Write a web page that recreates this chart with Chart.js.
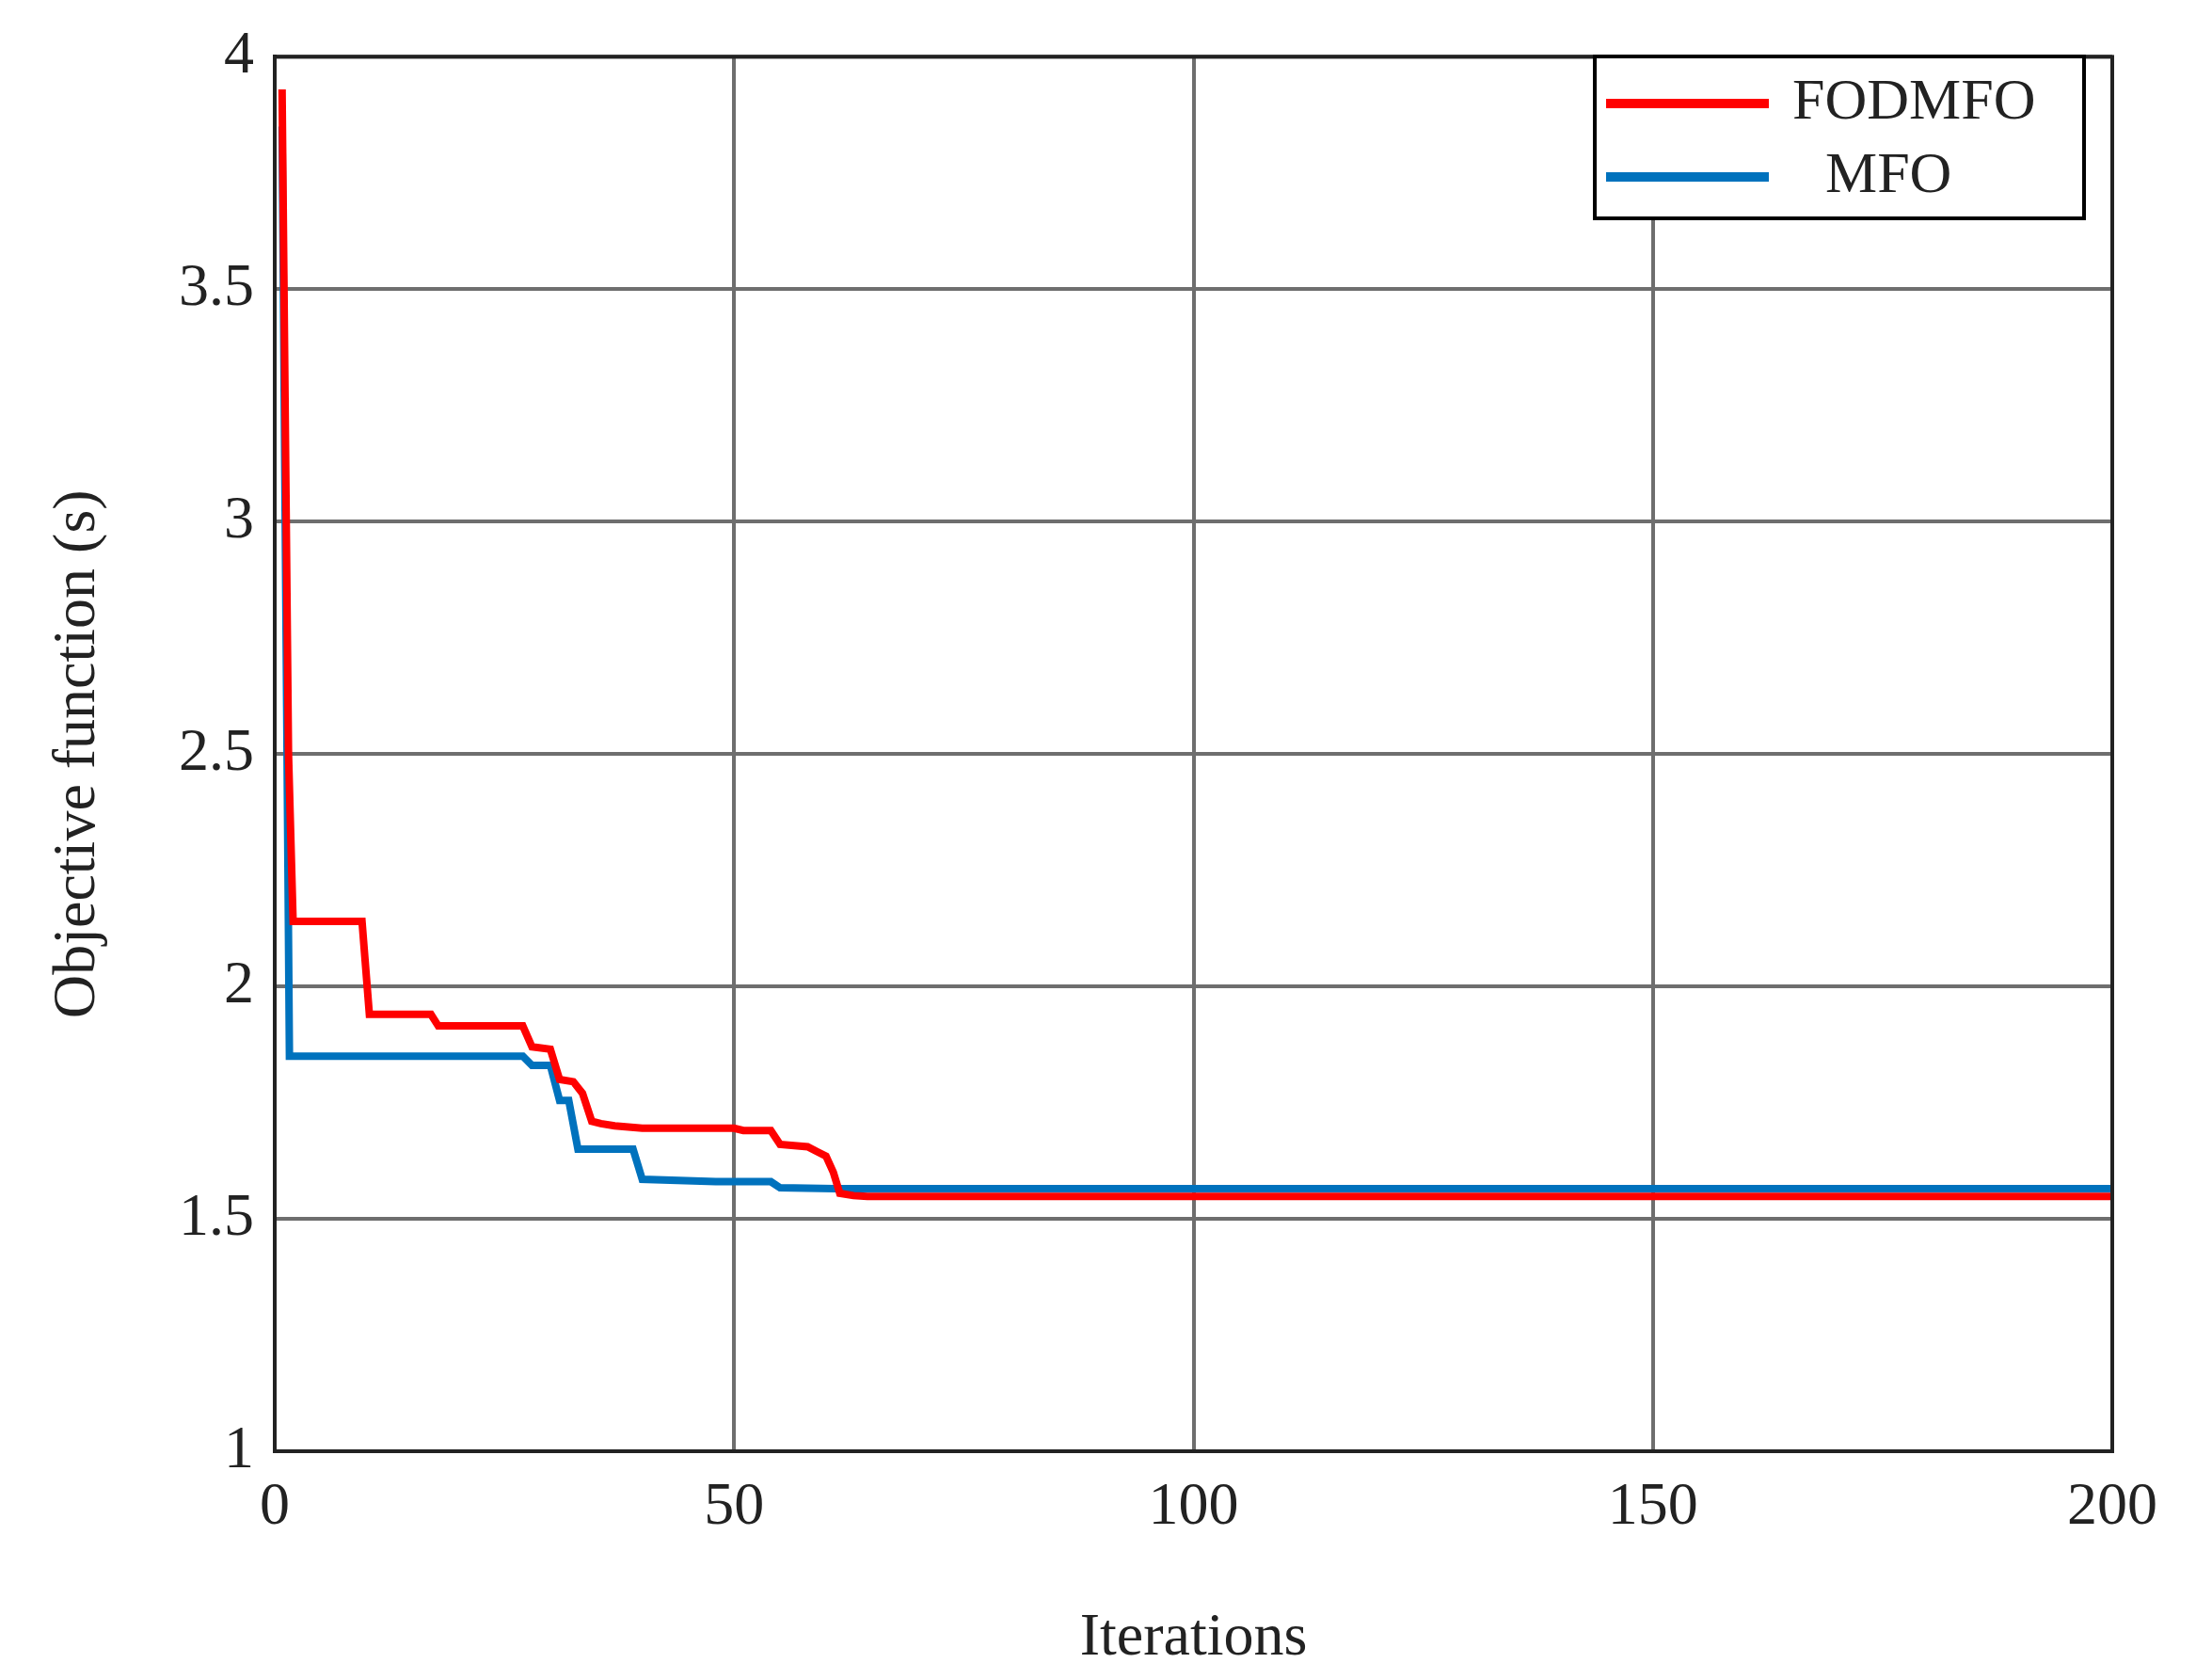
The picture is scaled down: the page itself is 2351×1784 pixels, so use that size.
<!DOCTYPE html>
<html><head><meta charset="utf-8">
<script src="https://cdn.jsdelivr.net/npm/chart.js@4/dist/chart.umd.min.js"></script>
<style>html,body{margin:0;padding:0;background:#fff}#w{width:2351px;height:1784px}</style>
</head><body><div id="w"><canvas id="c"></canvas></div>
<script>
const fodIter = [0.8, 1.5, 2, 9.5, 10.3, 17, 17.8, 27, 28, 30, 31, 32.5, 33.5, 34.5, 35.5, 37, 40, 50, 51, 54, 55, 58, 59, 60, 60.8, 61.5, 63, 64.5, 200];
const fodVal  = [3.93, 2.5, 2.14, 2.14, 1.94, 1.94, 1.915, 1.915, 1.87, 1.865, 1.80, 1.795, 1.77, 1.71, 1.705, 1.70, 1.695, 1.695, 1.69, 1.69, 1.66, 1.655, 1.645, 1.635, 1.60, 1.555, 1.55, 1.548, 1.548];
const mfoIter = [0.8, 1.3, 1.6, 27, 28, 30, 31, 32, 33, 39, 40, 48, 54, 55, 61, 200];
const mfoVal  = [3.85, 2.6, 1.85, 1.85, 1.83, 1.83, 1.755, 1.755, 1.65, 1.65, 1.585, 1.58, 1.58, 1.567, 1.565, 1.565];
const xTicks = [0, 50, 100, 150, 200];
const yTicks = [1, 1.5, 2, 2.5, 3, 3.5, 4];
const names = ['FODMFO', 'MFO'];
const FONT = '"Liberation Serif", "Times New Roman", serif';
const pts = (xs, ys) => xs.map((x, i) => ({x, y: ys[i]}));
const legendPlugin = {
  id: 'lg',
  afterDraw(ch) {
    const c = ch.ctx;
    const x0 = 1695, y0 = 60, w = 520, h = 172;
    c.save();
    c.fillStyle = '#fff'; c.fillRect(x0, y0, w, h);
    c.strokeStyle = '#000'; c.lineWidth = 4; c.strokeRect(x0, y0, w, h);
    const cols = ['#ff0000', '#0072bd'];
    c.font = '62px ' + FONT; c.fillStyle = '#222'; c.textBaseline = 'middle';
    [0, 1].forEach(i => {
      const y = y0 + 50 + i * 78;
      c.strokeStyle = cols[i]; c.lineWidth = 10;
      c.beginPath(); c.moveTo(x0 + 12, y); c.lineTo(x0 + 185, y); c.stroke();
      c.fillText(names[i], x0 + (i ? 245 : 210), y);
    });
    c.restore();
  }
};
new Chart(document.getElementById('c'), {
  type: 'line',
  data: { datasets: [
    { label: names[0], data: pts(fodIter, fodVal), borderColor: '#ff0000', borderWidth: 8, pointRadius: 0, tension: 0 },
    { label: names[1], data: pts(mfoIter, mfoVal), borderColor: '#0072bd', borderWidth: 8, pointRadius: 0, tension: 0 }
  ]},
  options: {
    responsive: true, maintainAspectRatio: false, animation: false,
    layout: { padding: { top: 57, right: 106, left: 0, bottom: 0 } },
    plugins: { legend: { display: false }, tooltip: { enabled: false } },
    scales: {
      x: { type: 'linear', min: 0, max: 200,
        afterBuildTicks: s => { s.ticks = xTicks.map(v => ({value: v})); },
        afterFit: s => { s.height = 242; },
        grid: { color: '#6e6e6e', lineWidth: 4, drawTicks: false },
        border: { color: '#222', width: 4 },
        ticks: { color: '#222', font: { family: FONT, size: 64 }, padding: 22, maxRotation: 0, callback: v => String(v) },
        title: { display: true, text: 'Iterations', color: '#222', font: { family: FONT, size: 64 }, padding: { top: 10 } } },
      y: { min: 1, max: 4,
        afterBuildTicks: s => { s.ticks = yTicks.map(v => ({value: v})); },
        afterFit: s => { s.width = 292; },
        grid: { color: '#6e6e6e', lineWidth: 4, drawTicks: false },
        border: { color: '#222', width: 4 },
        ticks: { color: '#222', font: { family: FONT, size: 64 }, padding: 22, callback: v => String(v) },
        title: { display: true, text: 'Objective function (s)', color: '#222', font: { family: FONT, size: 64 }, padding: { top: 45, bottom: 30 } } }
    }
  },
  plugins: [legendPlugin, { id: 'frame', afterDatasetsDraw(ch) {
    const c = ch.ctx, a = ch.chartArea; c.save(); c.strokeStyle = '#222'; c.lineWidth = 4;
    c.strokeRect(a.left, a.top, a.right - a.left, a.bottom - a.top); c.restore(); } }]
});
</script></body></html>
